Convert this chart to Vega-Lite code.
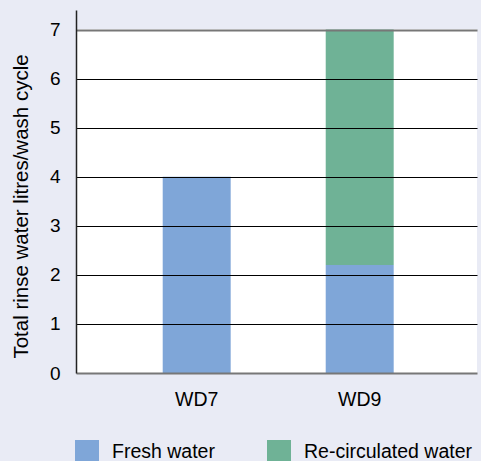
{
  "$schema": "https://vega.github.io/schema/vega-lite/v6.json",
  "autosize": "none",
  "width": 401,
  "height": 363,
  "padding": {"left": 76, "top": 10, "right": 4, "bottom": 88},
  "background": "#e9ebf5",
  "config": {
    "view": {"stroke": null},
    "font": "Liberation Sans"
  },
  "data": {
    "values": [
      {"machine": "WD7", "type": "Fresh water", "litres": 4.0},
      {"machine": "WD9", "type": "Fresh water", "litres": 2.2},
      {"machine": "WD9", "type": "Re-circulated water", "litres": 4.8}
    ]
  },
  "layer": [
    {
      "mark": {"type": "rect", "color": "white"},
      "encoding": {
        "y": {"datum": 0, "type": "quantitative"},
        "y2": {"datum": 7}
      }
    },
    {
      "mark": {"type": "bar"},
      "encoding": {
        "x": {
          "field": "machine",
          "type": "nominal",
          "scale": {"paddingInner": 0.583, "paddingOuter": 0.5215, "align": 0.51},
          "axis": {
            "title": null,
            "labelAngle": 0,
            "labelFontSize": 19.5,
            "labelColor": "black",
            "labelPadding": 17,
            "ticks": false,
            "domain": false
          }
        },
        "y": {
          "field": "litres",
          "type": "quantitative",
          "aggregate": "sum",
          "stack": "zero",
          "scale": {"domain": [0, 7.4], "nice": false},
          "axis": {
            "title": "Total rinse water litres/wash cycle",
            "titleFontSize": 20.5,
            "titleFontWeight": "normal",
            "titleColor": "black",
            "titleX": -55,
            "titleY": 196,
            "titleAngle": -90,
            "titleAlign": "center",
            "titleBaseline": "middle",
            "values": [0, 1, 2, 3, 4, 5, 6, 7],
            "labelFontSize": 19,
            "labelColor": "black",
            "labelPadding": 16,
            "ticks": false,
            "domain": true,
            "domainColor": "#222",
            "domainWidth": 1.5,
            "grid": true,
            "gridColor": {"condition": {"test": "datum.value == 0 || datum.value == 7", "value": "#777"}, "value": "black"},
            "gridWidth": {"condition": {"test": "datum.value == 0 || datum.value == 7", "value": 2}, "value": 1.2},
            "gridOpacity": 1,
            "zindex": 1
          }
        },
        "order": {"field": "type", "sort": "ascending"},
        "color": {
          "field": "type",
          "type": "nominal",
          "scale": {"domain": ["Fresh water", "Re-circulated water"], "range": ["#7fa6d8", "#6fb296"]},
          "legend": {
            "title": null,
            "orient": "none",
            "direction": "horizontal",
            "legendX": -1,
            "legendY": 430,
            "symbolType": "square",
            "symbolSize": 576,
            "symbolStrokeWidth": 0,
            "symbolOpacity": 1,
            "labelFontSize": 19.5,
            "labelColor": "black",
            "labelOffset": 13,
            "labelLimit": 400,
            "columnPadding": 52
          }
        }
      }
    }
  ]
}
